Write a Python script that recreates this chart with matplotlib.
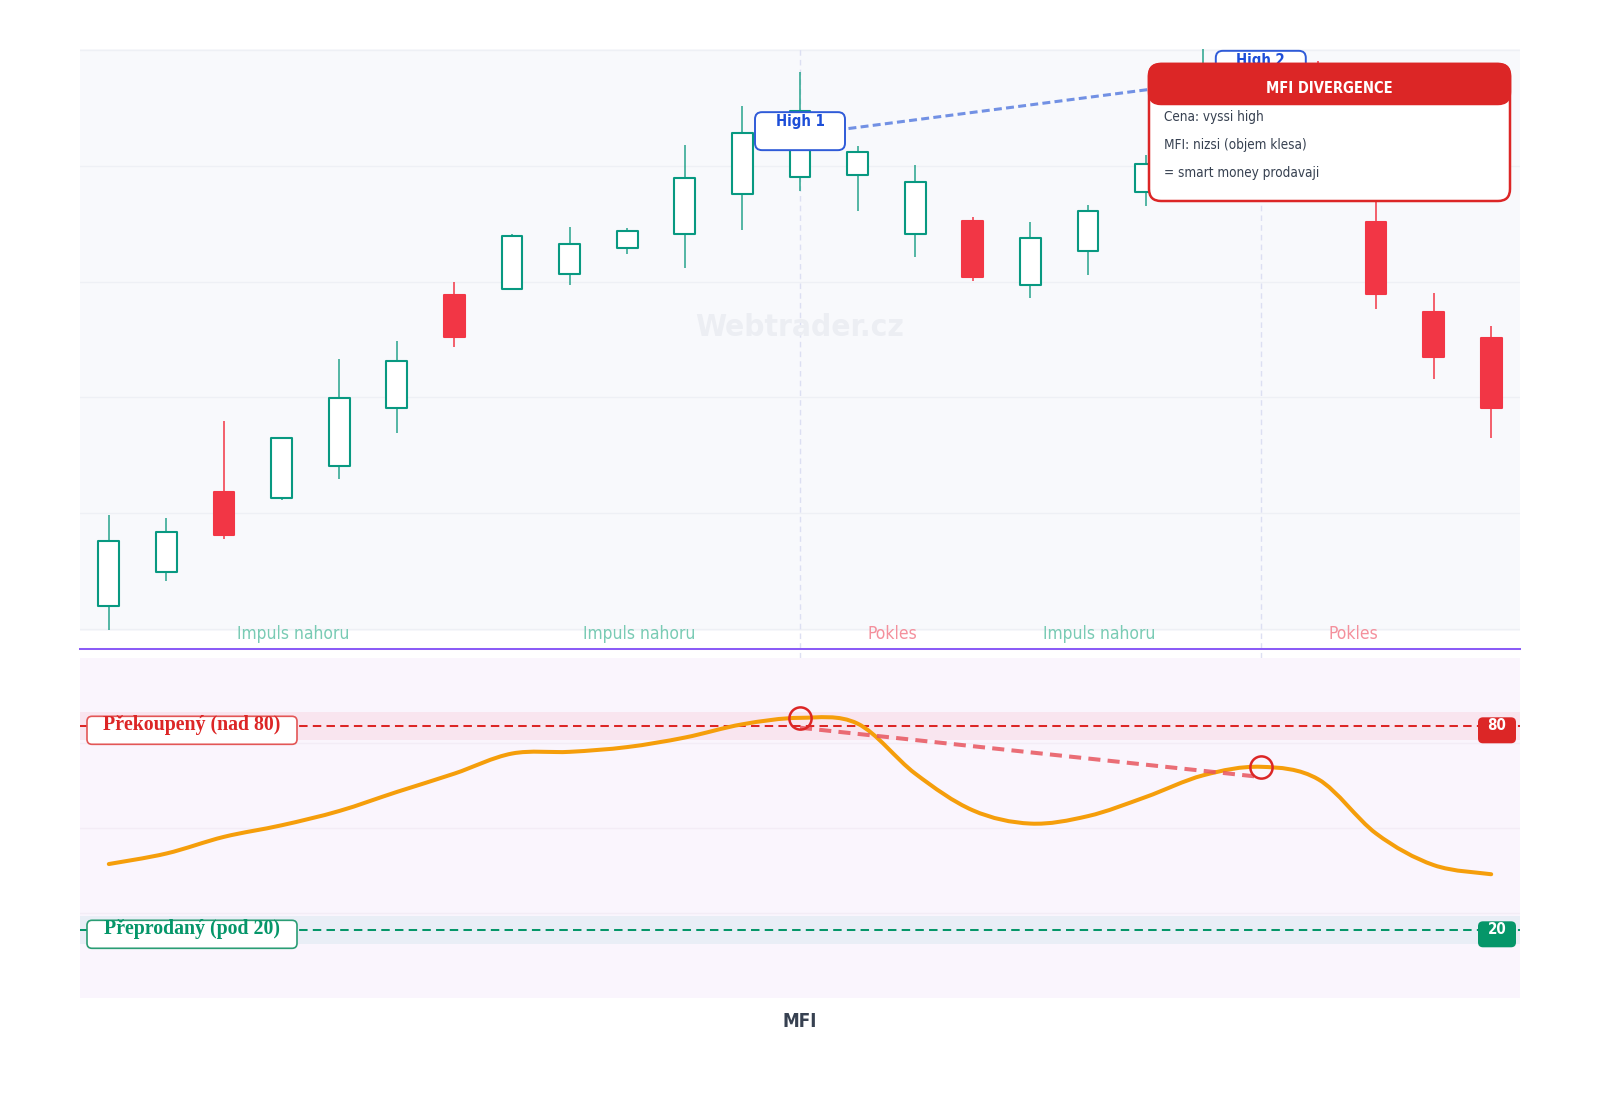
import os
import numpy as np
import matplotlib
matplotlib.use("Agg")
import matplotlib.pyplot as plt
import matplotlib.font_manager as fm
import matplotlib.transforms as mtransforms
from matplotlib.font_manager import FontProperties
from matplotlib.patches import FancyBboxPatch, PathPatch
from matplotlib.path import Path

# ------------------------------------------------------------------ data
opens  = [96.00, 97.45, 100.92, 100.63, 102.03, 104.53, 109.44, 109.69, 110.32, 111.46,
          112.04, 113.79, 114.54, 114.62, 112.04, 112.62, 109.84, 111.30, 113.86, 115.10,
          117.60, 119.00, 112.56, 108.70, 107.58]
highs  = [99.90, 99.77, 103.98, 103.26, 106.66, 107.42, 109.99, 112.05, 112.34, 112.32,
          115.89, 117.58, 119.05, 115.84, 115.02, 112.77, 112.57, 113.33, 115.47, 120.60,
          119.90, 119.55, 114.20, 109.49, 108.08]
lows   = [94.94, 97.04, 98.86, 100.54, 101.46, 103.44, 107.16, 109.67, 109.84, 111.21,
          110.57, 112.22, 113.91, 113.03, 111.05, 110.02, 109.31, 110.27, 113.28, 114.50,
          116.90, 114.40, 108.80, 105.78, 103.25]
closes = [98.78, 99.19, 99.06, 103.24, 104.98, 106.58, 107.62, 111.97, 111.62, 112.17,
          114.49, 116.42, 117.39, 115.60, 114.29, 110.19, 111.88, 113.05, 115.06, 117.90,
          119.30, 115.00, 109.45, 106.75, 104.52]

mfi = [39.4, 42.5, 47.4, 50.8, 55.0, 60.6, 66.0, 71.9, 72.4, 73.8, 76.6, 80.5, 82.4,
       80.7, 66.0, 55.2, 51.3, 53.5, 59.1, 65.5, 68.0, 64.3, 48.4, 39.1, 36.4]

phase_labels = ["Impuls nahoru", "Impuls nahoru", "Pokles", "Impuls nahoru", "Pokles"]
phase_x      = [3.2, 9.2, 13.6, 17.2, 21.6]
phase_up     = [True, True, False, True, False]

high_idx         = [12, 20]
high_names       = ["High 1", "High 2"]
high_label_price = [116.50, 119.15]
price_div_line   = [116.34, 118.93]
mfi_div_line     = [79.5, 65.0]

overbought, oversold = 80, 20
ob_band = (76, 84)
os_band = (16, 24)
ob_text = "Překoupený (nad 80)"
os_text = "Přeprodaný (pod 20)"

box_title = "MFI DIVERGENCE"
box_lines = ["Cena: vyssi high", "MFI: nizsi (objem klesa)", "= smart money prodavaji"]
watermark = "Webtrader.cz"
sub_title = "MFI"

# ------------------------------------------------------------------ fonts
by_base = {os.path.basename(f.fname): f.fname for f in fm.fontManager.ttflist}


def pick_font(cands, fallback_weight):
    for b in cands:
        if b in by_base:
            return FontProperties(fname=by_base[b])
    return FontProperties(family="Roboto", weight=fallback_weight)


FP_BOLD = pick_font(["NotoSans-ExtraCondensedBold.ttf", "NotoSans-CondensedBold.ttf",
                     "OpenSans_Condensed-Bold.ttf", "OpenSans-CondensedBold.ttf",
                     "LiberationSansNarrow-Bold.ttf", "DejaVuSansCondensed-Bold.ttf",
                     "Roboto-Bold.ttf"], "bold")
FP_REG = pick_font(["NotoSans-ExtraCondensed.ttf", "NotoSans-Condensed.ttf",
                    "OpenSans_Condensed-Regular.ttf", "OpenSans-CondensedRegular.ttf",
                    "LiberationSansNarrow-Regular.ttf", "DejaVuSansCondensed.ttf",
                    "Roboto-Regular.ttf"], "normal")
names = {f.name for f in fm.fontManager.ttflist}
SERIF = "Liberation Serif" if "Liberation Serif" in names else "DejaVu Serif"

GREEN = "#089981"
GREEN_W = "#26a38c"
RED = "#f23645"

# ------------------------------------------------------------------ layout
W, H = 1600, 1100
fig = plt.figure(figsize=(16, 11), dpi=100)
fig.patch.set_facecolor("white")
renderer = fig.canvas.get_renderer()


def sized(fp, text, size_h, target_w, mode="mean"):
    """font size balancing a target cap-height size and a target pixel width"""
    p = fp.copy()
    p.set_size(size_h)
    t = fig.text(0, 0, text, fontproperties=p)
    w = t.get_window_extent(renderer).width
    t.remove()
    size_w = size_h * target_w / w
    s = size_w if mode == "width" else float(np.sqrt(size_h * size_w))
    p.set_size(s)
    return p


def rect(x0, y0, x1, y1):
    return [x0 / W, 1 - y1 / H, (x1 - x0) / W, (y1 - y0) / H]


ax = fig.add_axes(rect(80, 49, 1520, 631))
axm = fig.add_axes(rect(80, 658, 1520, 998))
ov = fig.add_axes([0, 0, 1, 1], zorder=10)
ov.set_xlim(0, W)
ov.set_ylim(0, H)
ov.axis("off")
ov.patch.set_alpha(0)

x = np.arange(len(opens))
o = np.array(opens); c = np.array(closes); hi = np.array(highs); lo = np.array(lows)
up = c >= o

# ------------------------------------------------------------------ price panel
ax.set_facecolor("#f8f9fc")
ax.set_xlim(-0.5, len(x) - 0.5)
ax.set_ylim(94.9, 120.05)
for s in ax.spines.values():
    s.set_visible(False)
ax.set_xticks([])
ax.set_yticks([95, 100, 105, 110, 115, 120])
ax.tick_params(left=False, labelleft=False)
ax.grid(axis="y", color="#eef0f5", lw=1)
ax.set_axisbelow(True)

for i in high_idx:
    ax.axvline(i, ymin=-0.047, ymax=1, color="#dcdff2", lw=1, ls=(0, (4, 3)),
               clip_on=False, zorder=1)

ax.text(0.5, 0.522, watermark, transform=ax.transAxes, ha="center", va="center",
        fontproperties=sized(FP_BOLD, watermark, 27, 175), color="#eceef3", zorder=1.5)

wick_cols = [GREEN_W if u else RED for u in up]
ax.vlines(x, lo, hi, colors=wick_cols, lw=1.1, zorder=2)
body_b = np.minimum(o, c)
body_h = np.maximum(np.abs(c - o), 0.05)
ax.bar(x, body_h, bottom=body_b, width=0.36,
       color=["white" if u else RED for u in up],
       edgecolor=[GREEN if u else RED for u in up],
       linewidth=1.5, joinstyle="round", zorder=3)

ax.plot(high_idx, price_div_line, color="#5b7fe0", alpha=0.85, lw=2.2,
        dashes=(2.6, 1.4), zorder=4)

fp_phase = sized(FP_REG, "Impuls nahoru", 15, 94)
trans = mtransforms.blended_transform_factory(ax.transData, ax.transAxes)
for lab, px, isup in zip(phase_labels, phase_x, phase_up):
    ax.annotate(lab, xy=(px, 0), xycoords=trans, xytext=(0, -8.3 * 0.72),
                textcoords="offset points", ha="center", va="baseline",
                fontproperties=fp_phase, color="#79cbb4" if isup else "#f4909c",
                annotation_clip=False, zorder=6)

# ------------------------------------------------------------------ MFI panel
axm.set_facecolor("#faf5fd")
axm.set_xlim(-0.5, len(x) - 0.5)
axm.set_ylim(0, 100)
for s in axm.spines.values():
    s.set_visible(False)
axm.set_xticks([])
axm.set_yticks([25, 50, 75])
axm.tick_params(left=False, labelleft=False)
axm.grid(axis="y", color="#f3ecf6", lw=1)
axm.set_axisbelow(True)

axm.axhspan(*ob_band, color="#f9e5ef", zorder=0.5, lw=0)
axm.axhspan(*os_band, color="#e9eef6", zorder=0.5, lw=0)
axm.axhline(overbought, color="#dc2626", lw=1.45, dashes=(4.2, 2.6), zorder=2)
axm.axhline(oversold, color="#059669", lw=1.45, dashes=(4.2, 2.6), zorder=2)

pts = np.column_stack([x, mfi]).astype(float)
P = np.vstack([pts[0], pts, pts[-1]])
verts = [pts[0]]
codes = [Path.MOVETO]
for i in range(len(pts) - 1):
    p0, p1, p2, p3 = P[i], P[i + 1], P[i + 2], P[i + 3]
    verts += [p1 + (p2 - p0) / 6.0, p2 - (p3 - p1) / 6.0, p2]
    codes += [Path.CURVE4] * 3
axm.add_patch(PathPatch(Path(verts, codes), fill=False, ec="#f59e0b", lw=2.9,
                        capstyle="round", joinstyle="round", zorder=3))

axm.plot(high_idx, mfi_div_line, color="#e8555e", alpha=0.85, lw=2.9,
         dashes=(3, 1.8), zorder=4)
axm.plot(high_idx, [mfi[i] for i in high_idx], "o", ms=16, mfc="none",
         mec="#dc2626", mew=1.8, zorder=5)

# ------------------------------------------------------------------ overlay
def disp(axis, xv, yv):
    return axis.transData.transform((xv, yv))


# separator
ov.plot([80, 1520], [H - 649, H - 649], color="#8b5cf6", lw=1.45, zorder=1)

# High labels
fp_high = sized(FP_BOLD, "High 1", 13.5, 39)
for i, name, py in zip(high_idx, high_names, high_label_price):
    cx, cy = disp(ax, i, py)
    ov.add_patch(FancyBboxPatch((cx - 45, cy - 19), 90, 38,
                                boxstyle="round,pad=0,rounding_size=7",
                                fc="white", ec="#2f5bd8", lw=1.4, zorder=2))
    ov.text(cx, cy + 4.8, name, ha="center", va="baseline", fontproperties=fp_high,
            color="#1d4ed8", zorder=3)

# level labels in MFI panel
fp_serif = sized(FontProperties(family=SERIF, weight="bold"), ob_text, 14, 179, mode="width")
fp_tag = sized(FP_BOLD, "80", 13.5, 15)
axl = axm.get_window_extent()
for lvl, txt, col, edge in [(overbought, ob_text, "#dc2626", "#e35656"),
                            (oversold, os_text, "#059669", "#2a9d74")]:
    _, ly = disp(axm, 0, lvl)
    bc = ly - 4.3
    ov.add_patch(FancyBboxPatch((axl.x0 + 7, bc - 14), 210, 28,
                                boxstyle="round,pad=0,rounding_size=5",
                                fc="white", ec=edge, lw=1.2, zorder=2))
    ov.text(axl.x0 + 112, bc, txt, ha="center", va="baseline", fontproperties=fp_serif,
            color=col, zorder=3)
    ov.add_patch(FancyBboxPatch((axl.x1 - 42, bc - 13), 38, 26,
                                boxstyle="round,pad=0,rounding_size=5",
                                fc=col, ec="none", zorder=2))
    ov.text(axl.x1 - 23, bc, str(lvl), ha="center", va="baseline", fontproperties=fp_tag,
            color="white", zorder=3)

# MFI DIVERGENCE box
bx0, bx1, by_top, by_bot = 1149, 1510, H - 64, H - 201
ov.add_patch(FancyBboxPatch((bx0, by_bot), bx1 - bx0, by_top - by_bot,
                            boxstyle="round,pad=0,rounding_size=12",
                            fc="white", ec="#dc2626", lw=1.8, zorder=5))
ov.add_patch(FancyBboxPatch((bx0, by_top - 40), bx1 - bx0, 40,
                            boxstyle="round,pad=0,rounding_size=12",
                            fc="#dc2626", ec="#dc2626", lw=1.8, zorder=6))
ov.text((bx0 + bx1) / 2, H - 92.7, box_title, ha="center", va="baseline",
        fontproperties=sized(FP_BOLD, box_title, 13.5, 99), color="white", zorder=7)
fp_body = sized(FP_REG, box_lines[1], 12, 116)
for k, line in enumerate(box_lines):
    ov.text(1164, H - (121 + 28.15 * k), line, ha="left", va="baseline",
            fontproperties=fp_body, color="#374151", zorder=7)

# subplot title
ov.text((axl.x0 + axl.x1) / 2, H - 1026.7, sub_title, ha="center", va="baseline",
        fontproperties=sized(FP_BOLD, sub_title, 16.5, 28), color="#374151", zorder=3)

fig.savefig("out.png", dpi=100, facecolor="white")
